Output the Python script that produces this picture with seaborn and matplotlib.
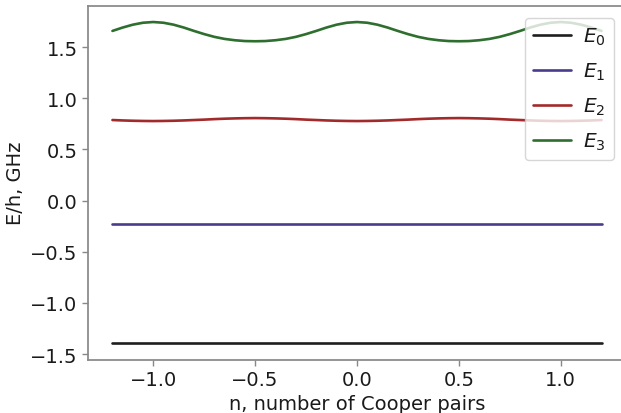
import numpy as np
import pandas as pd
import matplotlib
matplotlib.use("Agg")
import matplotlib.pyplot as plt
import seaborn as sns

n = [-1.20, -1.15, -1.10, -1.05, -1.00, -0.95, -0.90, -0.85, -0.80, -0.75,
     -0.70, -0.65, -0.60, -0.55, -0.50, -0.45, -0.40, -0.35, -0.30, -0.25,
     -0.20, -0.15, -0.10, -0.05, 0.00, 0.05, 0.10, 0.15, 0.20, 0.25,
     0.30, 0.35, 0.40, 0.45, 0.50, 0.55, 0.60, 0.65, 0.70, 0.75,
     0.80, 0.85, 0.90, 0.95, 1.00, 1.05, 1.10, 1.15, 1.20]

E0 = [-1.395] * len(n)
E1 = [-0.231] * len(n)
E2 = [0.788, 0.784, 0.781, 0.779, 0.778, 0.779, 0.781, 0.784, 0.788, 0.792,
      0.797, 0.801, 0.804, 0.806, 0.807, 0.806, 0.804, 0.801, 0.797, 0.792,
      0.788, 0.784, 0.781, 0.779, 0.778, 0.779, 0.781, 0.784, 0.788, 0.792,
      0.797, 0.801, 0.804, 0.806, 0.807, 0.806, 0.804, 0.801, 0.797, 0.792,
      0.788, 0.784, 0.781, 0.779, 0.778, 0.779, 0.781, 0.784, 0.788]
E3 = [1.659, 1.692, 1.720, 1.739, 1.746, 1.739, 1.720, 1.692, 1.659, 1.628,
      1.601, 1.581, 1.568, 1.560, 1.558, 1.560, 1.568, 1.581, 1.601, 1.628,
      1.659, 1.692, 1.720, 1.739, 1.746, 1.739, 1.720, 1.692, 1.659, 1.628,
      1.601, 1.581, 1.568, 1.560, 1.558, 1.560, 1.568, 1.581, 1.601, 1.628,
      1.659, 1.692, 1.720, 1.739, 1.746, 1.739, 1.720, 1.692, 1.659]

levels = ["$E_0$", "$E_1$", "$E_2$", "$E_3$"]
colors = ["#1e1e1e", "#4a3c8c", "#a32a2a", "#2e6e2e"]

df = pd.concat([
    pd.DataFrame({"n": n, "E": vals, "level": lab})
    for vals, lab in zip([E0, E1, E2, E3], levels)
], ignore_index=True)

sns.set_theme(style="ticks")
plt.rcParams['font.family'] = ['DejaVu Sans']
plt.rcParams['axes.edgecolor'] = '#888888'
plt.rcParams['xtick.color'] = '#888888'
plt.rcParams['ytick.color'] = '#888888'
plt.rcParams['xtick.labelcolor'] = '#1a1a1a'
plt.rcParams['ytick.labelcolor'] = '#1a1a1a'

fig = plt.figure(figsize=(6.21, 4.14), dpi=100)
ax = fig.add_axes([88/621, 53/414, 538/621, 354.5/414])

sns.lineplot(data=df, x="n", y="E", hue="level", palette=colors,
             hue_order=levels, linewidth=1.9, ax=ax)

ax.set_xlabel("n, number of Cooper pairs", fontsize=14, color="#1a1a1a",
              labelpad=3)
ax.set_ylabel("E/h, GHz", fontsize=14, color="#1a1a1a")
ax.tick_params(labelsize=14, length=4, width=1)
ax.set_xticks([-1.0, -0.5, 0.0, 0.5, 1.0])
ax.set_yticks([-1.5, -1.0, -0.5, 0.0, 0.5, 1.0, 1.5])
ax.set_xlim(-1.32, 1.32)
ax.set_ylim(-1.5575, 1.9075)

leg = ax.legend(loc="upper right", fontsize=14.5, labelspacing=0.68,
                handlelength=1.9, handletextpad=0.6, frameon=True,
                framealpha=0.8, borderaxespad=0.6)
for t in leg.get_texts():
    t.set_color("#1a1a1a")

fig.savefig("out.png", dpi=100)
